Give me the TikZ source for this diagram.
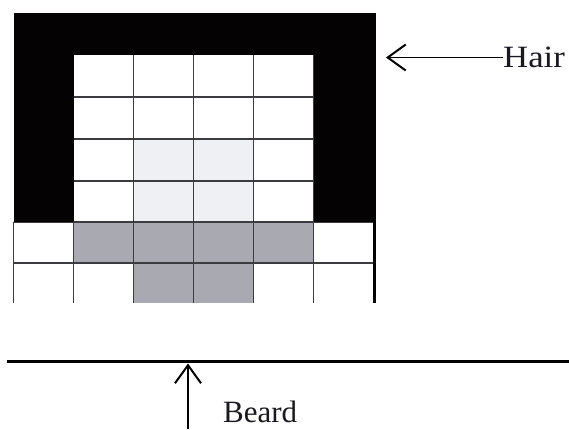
\documentclass[tikz,border=0pt]{standalone}
\usepackage{fontspec}
\setmainfont{Liberation Serif}
\usetikzlibrary{arrows.meta}
\definecolor{hairblack}{HTML}{050203}
\definecolor{skinlight}{HTML}{EEF0F3}
\definecolor{beardgray}{HTML}{A9A9B1}
\definecolor{gridline}{HTML}{3C3C40}
\definecolor{labelink}{HTML}{1A1820}
\tikzset{
  gridrule/.style={draw=gridline, line width=1.1pt},
  pointer/.style={draw=black, line width=1.8pt,
    -{Straight Barb[length=18pt, width=26pt, line width=2pt]}},
  label/.style={inner sep=0pt, font=\fontsize{31}{36}\selectfont, text=labelink}
}
\begin{document}
\begin{tikzpicture}[x=1pt, y=-1pt]
  \useasboundingbox (0,0) rectangle (569,429);
  \fill[white] (0,0) rectangle (569,429);

  % shaded cells: forehead shading and beard
  \fill[skinlight] (133.5,139) rectangle (253.5,222);
  \fill[beardgray] (73.5,222) rectangle (313.5,263);
  \fill[beardgray] (133.5,263) rectangle (253.5,303);

  % grid lines of the face area
  \foreach \x in {73.5,133.5,193.5,253.5,313.5}
    \draw[gridrule] (\x,55) -- (\x,303);
  \draw[gridrule] (13.5,222) -- (13.5,303);
  \foreach \y in {97,139,181}
    \draw[gridrule] (73.5,\y) -- (313.5,\y);
  \foreach \y in {222,263}
    \draw[gridrule] (13.5,\y) -- (374.5,\y);

  % hair: top row and side columns
  \fill[hairblack] (13.5,13) rectangle (374.5,55);
  \fill[hairblack] (13.5,13) rectangle (73.5,222);
  \fill[hairblack] (313.5,13) rectangle (374.5,222);
  \draw[hairblack, line width=3pt] (374.5,13) -- (374.5,303);

  % chin line
  \coordinate (chinL) at (7,361.5);
  \coordinate (chinR) at (569,361.5);
  \draw[black, line width=3pt] (chinL) -- (chinR);

  % labels and pointers
  \node[label, anchor=base west, xscale=1.12] (hair) at (503,67) {Hair};
  \coordinate (hairtip) at (386,57.5);
  \draw[pointer] (hair.west |- hairtip) -- (hairtip);

  \node[label, anchor=base west] (beard) at (223,422.5) {Beard};
  \coordinate (beardtail) at (188,429);
  \coordinate (beardtip) at (188,363.5);
  \draw[pointer] (beardtail) -- (beardtip);
\end{tikzpicture}
\end{document}
